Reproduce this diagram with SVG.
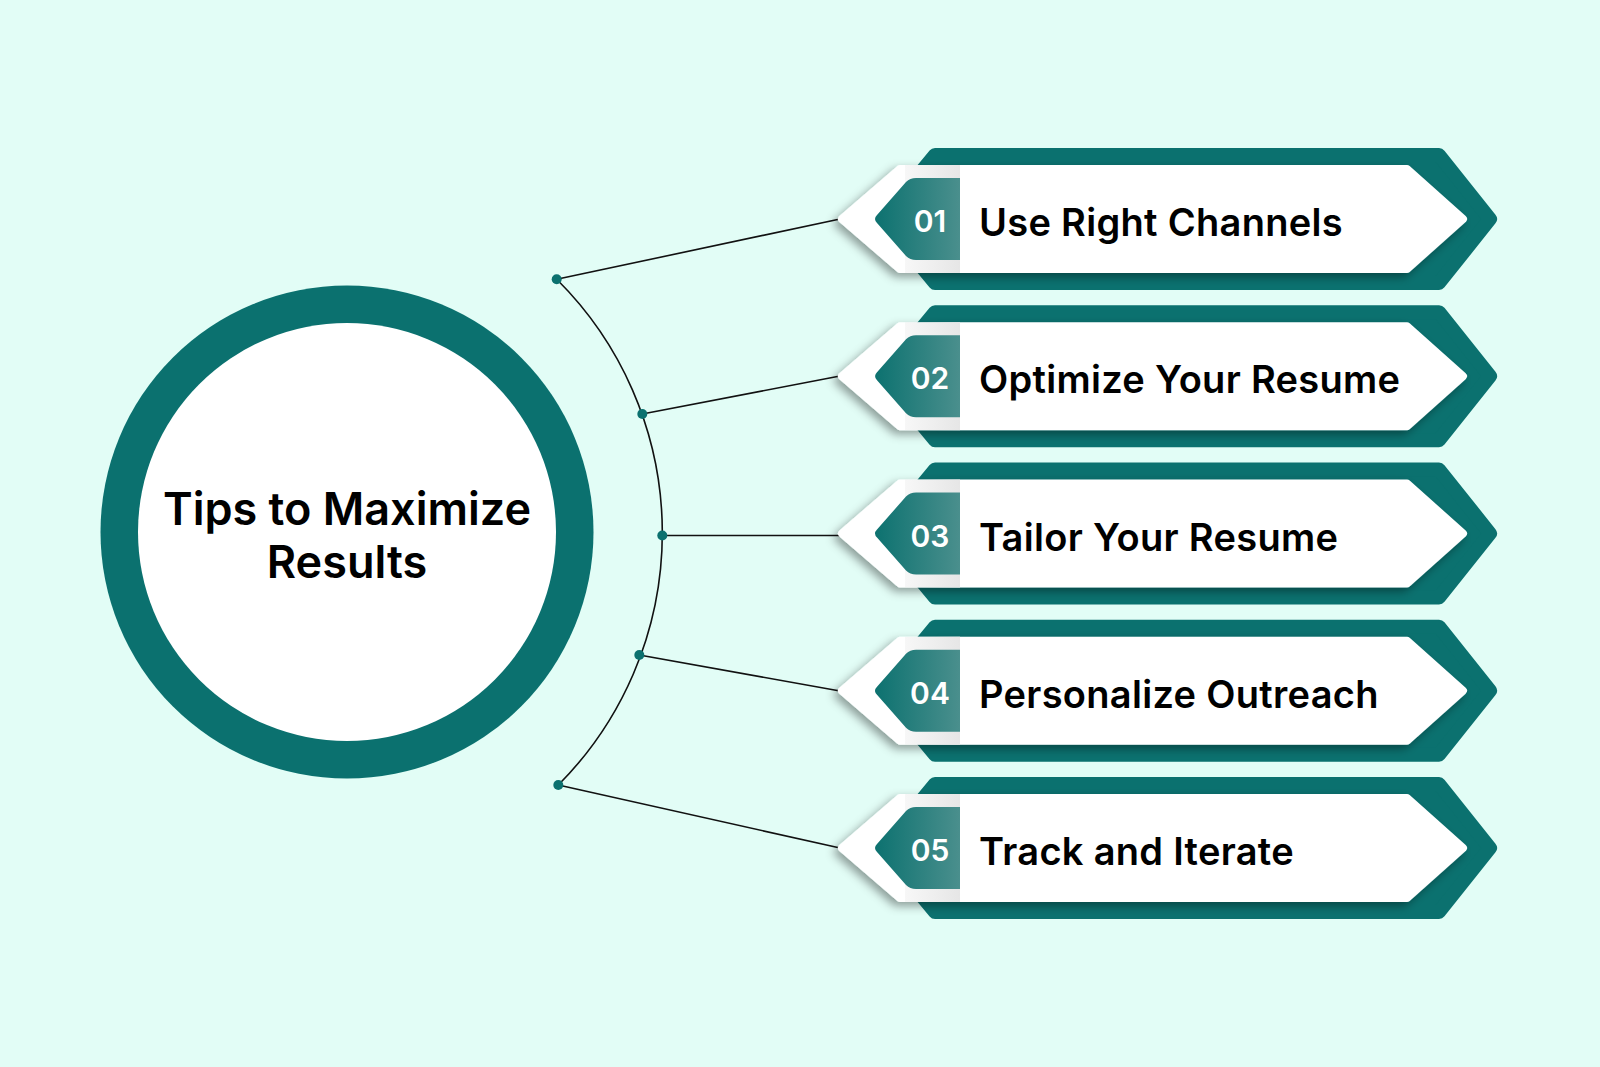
<svg xmlns="http://www.w3.org/2000/svg" xmlns:xlink="http://www.w3.org/1999/xlink" width="1600" height="1067" viewBox="0 0 1600 1067">
  <style>
    .teal{fill:#0b716f;stroke:#0b716f;stroke-width:14;stroke-linejoin:round}
    .white{fill:#ffffff;stroke:#ffffff;stroke-width:8;stroke-linejoin:round}
    .num{font-family:Inter,"Noto Sans",sans-serif;font-weight:600;font-size:30px;fill:#ffffff;text-anchor:middle}
    .lbl{font-family:Inter,"Noto Sans",sans-serif;font-weight:600;font-size:38px;letter-spacing:0.3px;fill:#000000}
    .title{font-family:Inter,"Noto Sans",sans-serif;font-weight:600;font-size:45px;fill:#000000;text-anchor:middle}
    .wire{fill:none;stroke:#111111;stroke-width:1.6}
    .dot{fill:#0b716f}
  </style>
  <defs>
    <filter id="sh" x="-10%" y="-30%" width="120%" height="160%">
      <feDropShadow dx="-4" dy="4" stdDeviation="5" flood-color="#000000" flood-opacity="0.38"/>
    </filter>
    <linearGradient id="tabg" x1="873" y1="0" x2="960" y2="0" gradientUnits="userSpaceOnUse">
      <stop offset="0" stop-color="#0b716f"/>
      <stop offset="1" stop-color="#4a8f8d"/>
    </linearGradient>
    <linearGradient id="greyg" x1="880" y1="0" x2="960" y2="0" gradientUnits="userSpaceOnUse">
      <stop offset="0" stop-color="#e6e6e6" stop-opacity="0"/>
      <stop offset="1" stop-color="#e6e6e6" stop-opacity="1"/>
    </linearGradient>
    <polygon id="back" class="teal" points="935,-64 1439,-64 1490,0 1439,64 935,64 882,0"/>
    <polygon id="front" class="white" points="842,0 900,-50 1407,-50 1463,0 1407,50 900,50"/>
    <path id="tab" fill="url(#tabg)" d="M960,-41 L916,-41 Q910,-41 906,-37 L877,-4 Q873,0 877,4 L906,37 Q910,41 916,41 L960,41 Z"/>
    <rect id="grey" x="905" y="-54" width="55" height="108" fill="url(#greyg)"/>
  </defs>

  <rect x="0" y="0" width="1600" height="1067" fill="#e2fdf6"/>

  <g id="connectors">
    <path class="wire" d="M556.7,279.3 A357.4,357.4 0 0 1 558.3,785"/>
    <line class="wire" x1="556.7" y1="279.3" x2="840" y2="219"/>
    <line class="wire" x1="642.3" y1="414" x2="840" y2="376"/>
    <line class="wire" x1="662.3" y1="535.5" x2="840" y2="535.5"/>
    <line class="wire" x1="639.3" y1="655" x2="840" y2="691"/>
    <line class="wire" x1="558.3" y1="785" x2="840" y2="848"/>
    <circle class="dot" cx="556.7" cy="279.3" r="5"/>
    <circle class="dot" cx="642.3" cy="414" r="5"/>
    <circle class="dot" cx="662.3" cy="535.5" r="5"/>
    <circle class="dot" cx="639.3" cy="655" r="5"/>
    <circle class="dot" cx="558.3" cy="785" r="5"/>
  </g>

  <g id="center">
    <circle cx="347" cy="532" r="246.5" fill="#0b716f"/>
    <circle cx="347" cy="532" r="209" fill="#ffffff"/>
    <text class="title" x="347" y="525">Tips to Maximize</text>
    <text class="title" x="347" y="578">Results</text>
  </g>

  <g id="tip1" transform="translate(0,219)">
    <use xlink:href="#back"/>
    <use xlink:href="#front" filter="url(#sh)"/>
    <use xlink:href="#grey"/>
    <use xlink:href="#tab"/>
    <text class="num" x="930" y="13">01</text>
    <text class="lbl" x="979" y="17">Use Right Channels</text>
  </g>
  <g id="tip2" transform="translate(0,376.2)">
    <use xlink:href="#back"/>
    <use xlink:href="#front" filter="url(#sh)"/>
    <use xlink:href="#grey"/>
    <use xlink:href="#tab"/>
    <text class="num" x="930" y="13">02</text>
    <text class="lbl" x="979" y="17">Optimize Your Resume</text>
  </g>
  <g id="tip3" transform="translate(0,533.5)">
    <use xlink:href="#back"/>
    <use xlink:href="#front" filter="url(#sh)"/>
    <use xlink:href="#grey"/>
    <use xlink:href="#tab"/>
    <text class="num" x="930" y="13">03</text>
    <text class="lbl" x="979" y="17">Tailor Your Resume</text>
  </g>
  <g id="tip4" transform="translate(0,690.7)">
    <use xlink:href="#back"/>
    <use xlink:href="#front" filter="url(#sh)"/>
    <use xlink:href="#grey"/>
    <use xlink:href="#tab"/>
    <text class="num" x="930" y="13">04</text>
    <text class="lbl" x="979" y="17">Personalize Outreach</text>
  </g>
  <g id="tip5" transform="translate(0,848)">
    <use xlink:href="#back"/>
    <use xlink:href="#front" filter="url(#sh)"/>
    <use xlink:href="#grey"/>
    <use xlink:href="#tab"/>
    <text class="num" x="930" y="13">05</text>
    <text class="lbl" x="979" y="17">Track and Iterate</text>
  </g>
</svg>
